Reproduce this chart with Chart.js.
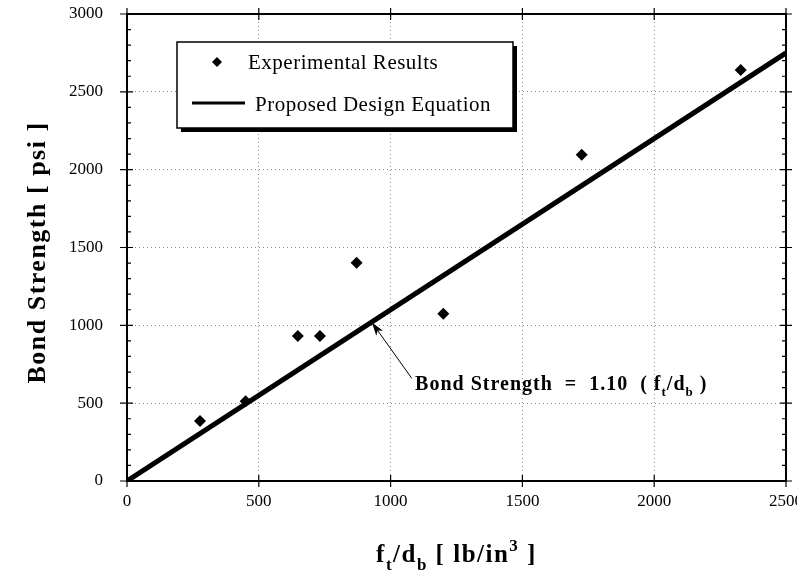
<!DOCTYPE html>
<html>
<head>
<meta charset="utf-8">
<script src="https://cdn.jsdelivr.net/npm/chart.js@4"></script>
<style>
  html, body { margin: 0; padding: 0; background: #fff; }
</style>
</head>
<body>
<canvas id="bond-chart" width="797" height="580"></canvas>
<script>
const EXP_X = [277, 450, 648, 732, 871, 1200, 1725, 2328];
const EXP_Y = [386, 513, 931, 931, 1402, 1075, 2096, 2641];
// Proposed design equation, end points of the line
const DESIGN_X = [0, 2500];
const DESIGN_Y = [0, 2750];
// Axis ticks
const X_TICKS = [0, 500, 1000, 1500, 2000, 2500];
const Y_TICKS = [0, 500, 1000, 1500, 2000, 2500, 3000];
const LEGEND_LABELS = ["Experimental Results", "Proposed Design Equation"];
// Annotation arrow tip (on the line), arrow tail and label position in data units
const ARROW_TIP = [929, 1019];
const ARROW_TAIL = [1080, 660];
const NOTE_AT = [1093, 583];

const SERIF = '"Liberation Serif", "DejaVu Serif", serif';

// Draw a row of text pieces (for sub/superscripts), returns width
function drawRuns(ctx, runs, x, y, centered) {
  let total = 0;
  runs.forEach((r) => { ctx.font = r[1]; total += ctx.measureText(r[0]).width; });
  let cx = centered ? x - total / 2 : x;
  runs.forEach((r) => {
    ctx.font = r[1];
    ctx.fillText(r[0], cx, y + r[2]);
    cx += ctx.measureText(r[0]).width;
  });
  return total;
}

// Frame, tick marks, legend box, annotation and axis titles
const decorations = {
  id: 'decorations',
  beforeDatasetsDraw(chart) {
    const ctx = chart.ctx;
    const a = chart.chartArea;
    const xs = chart.scales.x, ys = chart.scales.y;
    ctx.save();
    ctx.strokeStyle = '#000';
    ctx.lineWidth = 2;
    ctx.strokeRect(a.left, a.top, a.right - a.left, a.bottom - a.top);

    ctx.lineWidth = 1.2;
    ctx.beginPath();
    // major ticks crossing the frame
    X_TICKS.forEach((v) => {
      const px = xs.getPixelForValue(v);
      ctx.moveTo(px, a.bottom - 6); ctx.lineTo(px, a.bottom + 6);
      ctx.moveTo(px, a.top - 6); ctx.lineTo(px, a.top + 6);
    });
    Y_TICKS.forEach((v) => {
      const py = ys.getPixelForValue(v);
      ctx.moveTo(a.left - 7, py); ctx.lineTo(a.left + 6, py);
      ctx.moveTo(a.right - 6, py); ctx.lineTo(a.right + 6, py);
    });
    // minor ticks on the y sides, every 100 psi
    for (let v = 100; v < 3000; v += 100) {
      if (v % 500 === 0) continue;
      const py = ys.getPixelForValue(v);
      ctx.moveTo(a.left, py); ctx.lineTo(a.left + 4, py);
      ctx.moveTo(a.right, py); ctx.lineTo(a.right - 4, py);
    }
    ctx.stroke();
    ctx.restore();
  },
  afterDatasetsDraw(chart) {
    const ctx = chart.ctx;
    const a = chart.chartArea;
    const xs = chart.scales.x, ys = chart.scales.y;
    const ds = chart.data.datasets;
    ctx.save();
    ctx.fillStyle = '#000';
    ctx.strokeStyle = '#000';

    // legend box with drop shadow
    const lx = a.left + 50, ly = a.top + 28, lw = 336, lh = 86;
    ctx.fillRect(lx + 4, ly + 4, lw, lh);
    ctx.fillStyle = '#fff';
    ctx.fillRect(lx, ly, lw, lh);
    ctx.lineWidth = 1.5;
    ctx.strokeRect(lx, ly, lw, lh);
    ctx.fillStyle = '#000';

    // row 1: diamond marker
    const dx = lx + 40, dy1 = ly + 20;
    ctx.beginPath();
    ctx.moveTo(dx, dy1 - 5); ctx.lineTo(dx + 5, dy1); ctx.lineTo(dx, dy1 + 5); ctx.lineTo(dx - 5, dy1);
    ctx.closePath();
    ctx.fill();
    ctx.font = '21px ' + SERIF;
    ctx.letterSpacing = '0.5px';
    ctx.textBaseline = 'alphabetic';
    ctx.fillText(ds[0].label, lx + 71, ly + 27);
    // row 2: line sample
    ctx.lineWidth = 3;
    ctx.beginPath();
    ctx.moveTo(lx + 15, ly + 61); ctx.lineTo(lx + 68, ly + 61);
    ctx.stroke();
    ctx.fillText(ds[1].label, lx + 78, ly + 69);

    // annotation arrow
    const tx = xs.getPixelForValue(ARROW_TIP[0]), ty = ys.getPixelForValue(ARROW_TIP[1]);
    const sx = xs.getPixelForValue(ARROW_TAIL[0]), sy = ys.getPixelForValue(ARROW_TAIL[1]);
    const ang = Math.atan2(ty - sy, tx - sx);
    ctx.lineWidth = 1;
    ctx.beginPath();
    ctx.moveTo(sx, sy); ctx.lineTo(tx, ty);
    ctx.stroke();
    ctx.beginPath();
    ctx.moveTo(tx, ty);
    ctx.lineTo(tx - 14 * Math.cos(ang - 0.3), ty - 14 * Math.sin(ang - 0.3));
    ctx.lineTo(tx - 10 * Math.cos(ang), ty - 10 * Math.sin(ang));
    ctx.lineTo(tx - 14 * Math.cos(ang + 0.3), ty - 14 * Math.sin(ang + 0.3));
    ctx.closePath();
    ctx.fill();

    // annotation text
    const nb = 'bold 20px ' + SERIF, ns = 'bold 13px ' + SERIF;
    ctx.letterSpacing = '1px';
    drawRuns(ctx, [
      ['Bond Strength  =  1.10  ( f', nb, 0], ['t', ns, 6], ['/d', nb, 0], ['b', ns, 6], [' )', nb, 0]
    ], xs.getPixelForValue(NOTE_AT[0]), ys.getPixelForValue(NOTE_AT[1]), false);

    // x axis title
    const tb = 'bold 25px ' + SERIF, tsub = 'bold 17px ' + SERIF;
    ctx.letterSpacing = '1.5px';
    drawRuns(ctx, [
      ['f', tb, 0], ['t', tsub, 8], ['/d', tb, 0], ['b', tsub, 8], [' [ lb/in', tb, 0], ['3', tsub, -11], [' ]', tb, 0]
    ], (a.left + a.right) / 2, 562, true);

    // y axis title
    ctx.translate(45, (a.top + a.bottom) / 2 + 5);
    ctx.rotate(-Math.PI / 2);
    ctx.letterSpacing = '1.5px';
    ctx.font = 'bold 26px ' + SERIF;
    ctx.textAlign = 'center';
    ctx.fillText('Bond Strength [ psi ]', 0, 0);
    ctx.restore();
  }
};

const tickFont = { family: SERIF, size: 17 };
const plainLabel = (v) => String(v);

const chart = new Chart(document.getElementById('bond-chart').getContext('2d'), {
  type: 'scatter',
  data: {
    datasets: [{
      label: LEGEND_LABELS[0],
      data: EXP_X.map((x, i) => ({ x: x, y: EXP_Y[i] })),
      pointStyle: 'rectRot',
      pointRadius: 6,
      backgroundColor: '#000',
      borderColor: '#000',
      borderWidth: 0,
      showLine: false
    }, {
      label: LEGEND_LABELS[1],
      data: DESIGN_X.map((x, i) => ({ x: x, y: DESIGN_Y[i] })),
      showLine: true,
      borderColor: '#000',
      borderWidth: 5,
      pointRadius: 0,
      fill: false
    }]
  },
  options: {
    responsive: false,
    animation: false,
    layout: { padding: { top: 14, right: 11, left: 0, bottom: 0 } },
    plugins: { legend: { display: false }, tooltip: { enabled: false } },
    scales: {
      x: {
        type: 'linear', min: 0, max: 2500,
        afterBuildTicks: (s) => { s.ticks = X_TICKS.map((v) => ({ value: v })); },
        grid: { color: '#8a8a8a', lineWidth: 1, drawTicks: false },
        border: { display: false, dash: [1, 3] },
        ticks: { font: tickFont, color: '#000', padding: 10, maxRotation: 0, callback: plainLabel },
        afterFit: (s) => { s.height = 99; s.paddingLeft = 0; s.paddingRight = 0; }
      },
      y: {
        type: 'linear', min: 0, max: 3000,
        afterBuildTicks: (s) => { s.ticks = Y_TICKS.map((v) => ({ value: v })); },
        grid: { color: '#8a8a8a', lineWidth: 1, drawTicks: false },
        border: { display: false, dash: [1, 3] },
        ticks: { font: tickFont, color: '#000', padding: 24, callback: plainLabel },
        afterFit: (s) => { s.width = 127; s.paddingTop = 0; s.paddingBottom = 0; }
      }
    }
  },
  plugins: [decorations]
});
</script>
</body>
</html>
